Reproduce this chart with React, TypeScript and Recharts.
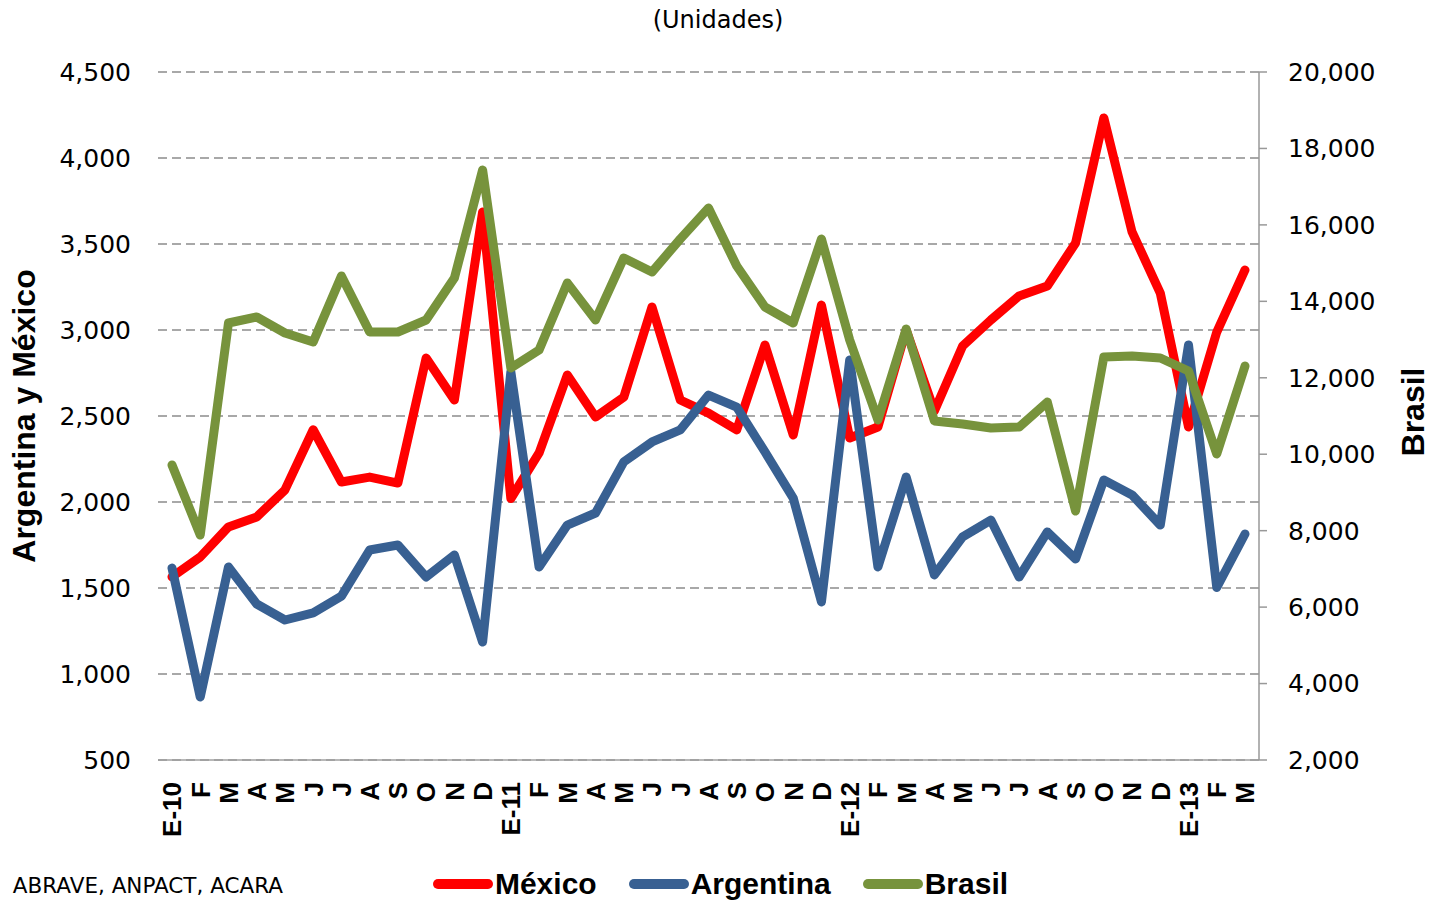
import { LineChart, Line, XAxis, YAxis, CartesianGrid } from 'recharts';

const meses = [
  'E-10', 'F', 'M', 'A', 'M', 'J', 'J', 'A', 'S', 'O', 'N', 'D',
  'E-11', 'F', 'M', 'A', 'M', 'J', 'J', 'A', 'S', 'O', 'N', 'D',
  'E-12', 'F', 'M', 'A', 'M', 'J', 'J', 'A', 'S', 'O', 'N', 'D',
  'E-13', 'F', 'M',
];

const mexico = [
  1565, 1680, 1855, 1913, 2070, 2420, 2116, 2145, 2110, 2837, 2593, 3686,
  2020, 2285, 2738, 2494, 2610, 3134, 2593, 2517, 2419, 2913, 2390, 3145,
  2372, 2436, 3000, 2529, 2907, 3058, 3198, 3256, 3506, 4233, 3570, 3215,
  2436, 2988, 3349,
];

const argentina = [
  1616, 866, 1622, 1407, 1314, 1355, 1453, 1721, 1750, 1564, 1692, 1186,
  2756, 1622, 1866, 1936, 2233, 2349, 2419, 2622, 2552, 2291, 2023, 1419,
  2826, 1622, 2145, 1576, 1797, 1895, 1564, 1826, 1669, 2128, 2041, 1866,
  2913, 1503, 1814,
];

const brasil = [
  9718, 7887, 13433, 13590, 13172, 12936, 14663, 13198, 13198, 13512, 14610, 17436,
  12256, 12727, 14480, 13512, 15134, 14767, 15631, 16442, 14924, 13852, 13433, 15631,
  12989, 10895, 13276, 10869, 10790, 10686, 10712, 11366, 8514, 12543, 12570, 12517,
  12177, 10006, 12308,
];

const ticksIzq = [500, 1000, 1500, 2000, 2500, 3000, 3500, 4000, 4500];
const ticksDer = [2000, 4000, 6000, 8000, 10000, 12000, 14000, 16000, 18000, 20000];

const series = [
  { key: 'mexico', name: 'México', color: '#FF0000', axis: 'left' },
  { key: 'argentina', name: 'Argentina', color: '#386092', axis: 'left' },
  { key: 'brasil', name: 'Brasil', color: '#77933C', axis: 'right' },
];

const data = meses.map((mes, i) => ({
  mes,
  mexico: mexico[i],
  argentina: argentina[i],
  brasil: brasil[i],
}));

const fmt = (v: number) => v.toLocaleString('en-US');

const numFont = "'DejaVu Sans', sans-serif";
const boldFont = "'Liberation Sans', Arial, sans-serif";

function MesTick(props: any) {
  const { x, y, payload } = props;
  return (
    <text
      x={x}
      y={y}
      transform={`rotate(-90, ${x}, ${y})`}
      textAnchor="end"
      dy="0.36em"
      fill="#000"
      fontFamily={boldFont}
      fontWeight="bold"
      fontSize={26}
    >
      {payload.value}
    </text>
  );
}

export default function App() {
  return (
    <div style={{ position: 'relative', width: 1437, height: 902, background: '#fff', overflow: 'hidden' }}>
      <style>{'body{margin:0}'}</style>
      <LineChart
        width={1437}
        height={902}
        data={data}
        margin={{ top: 72, right: 58, bottom: 0, left: 58 }}
      >
        <CartesianGrid
          yAxisId="left"
          vertical={false}
          stroke="#8c8c8c"
          strokeWidth={1.4}
          strokeDasharray="9 5"
        />
        <XAxis
          dataKey="mes"
          interval={0}
          height={142}
          padding={{ left: 14, right: 14 }}
          axisLine={{ stroke: '#a0a0a0', strokeWidth: 1.5 }}
          tickLine={false}
          tickSize={0}
          tickMargin={22}
          tick={<MesTick />}
        />
        <YAxis
          yAxisId="left"
          width={100}
          domain={[500, 4500]}
          ticks={ticksIzq}
          axisLine={false}
          tickLine={false}
          tickSize={0}
          tickMargin={27}
          tickFormatter={fmt}
          tick={{ fill: '#000', fontSize: 25, fontFamily: numFont }}
        />
        <YAxis
          yAxisId="right"
          orientation="right"
          width={120}
          domain={[2000, 20000]}
          ticks={ticksDer}
          axisLine={{ stroke: '#999', strokeWidth: 1.5 }}
          tickLine={{ stroke: '#999', strokeWidth: 1.5 }}
          tickSize={8}
          tickMargin={21}
          tickFormatter={fmt}
          tick={{ fill: '#000', fontSize: 25, fontFamily: numFont }}
        />
        {series.map((s) => (
          <Line
            key={s.key}
            yAxisId={s.axis}
            dataKey={s.key}
            name={s.name}
            stroke={s.color}
            strokeWidth={9}
            strokeLinecap="round"
            strokeLinejoin="round"
            dot={false}
            activeDot={false}
            isAnimationActive={false}
          />
        ))}
      </LineChart>

      <svg
        width={1437}
        height={902}
        style={{ position: 'absolute', left: 0, top: 0, pointerEvents: 'none' }}
      >
        <text x={718} y={28} textAnchor="middle" fontFamily={numFont} fontSize={24} fill="#000">
          (Unidades)
        </text>
        <text
          transform="translate(35,416) rotate(-90)"
          textAnchor="middle"
          fontFamily={boldFont}
          fontWeight="bold"
          fontSize={32}
          fill="#000"
        >
          Argentina y México
        </text>
        <text
          transform="translate(1424,412) rotate(-90)"
          textAnchor="middle"
          fontFamily={boldFont}
          fontWeight="bold"
          fontSize={32}
          fill="#000"
        >
          Brasil
        </text>
        <text x={283} y={893} textAnchor="end" fontFamily={numFont} fontSize={21.5} fill="#000">
          ABRAVE, ANPACT, ACARA
        </text>
      </svg>

      <div
        style={{
          position: 'absolute',
          left: 0,
          width: 1437,
          top: 866,
          display: 'flex',
          justifyContent: 'center',
          paddingLeft: 2,
          gap: 32,
          fontFamily: boldFont,
          fontWeight: 'bold',
          fontSize: 30,
          lineHeight: '36px',
        }}
      >
        {series.map((s) => (
          <div key={s.key} style={{ display: 'flex', alignItems: 'center' }}>
            <svg width={60} height={14} style={{ marginRight: 2 }}>
              <line x1={5} y1={7} x2={55} y2={7} stroke={s.color} strokeWidth={10} strokeLinecap="round" />
            </svg>
            <span>{s.name}</span>
          </div>
        ))}
      </div>
    </div>
  );
}
